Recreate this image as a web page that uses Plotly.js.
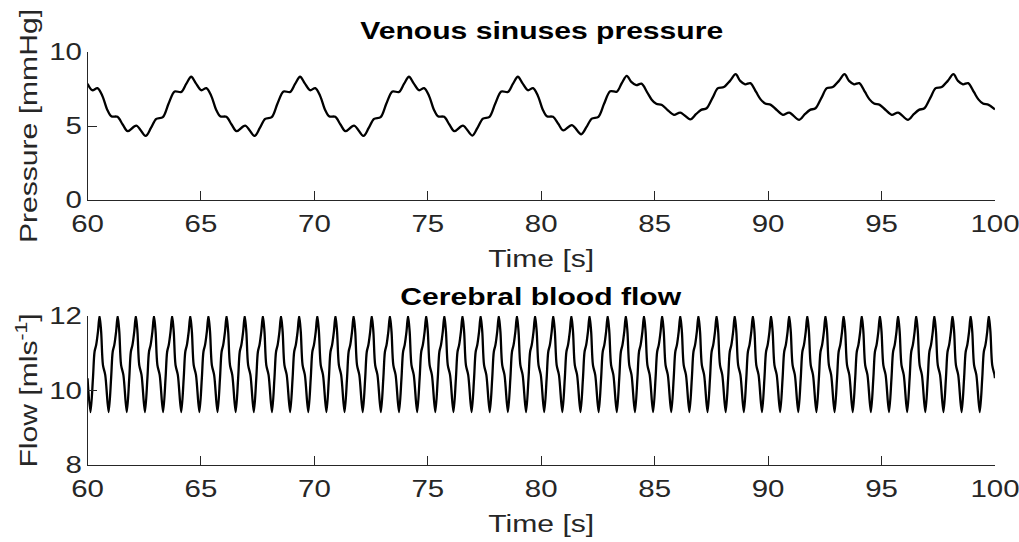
<!DOCTYPE html>
<html>
<head>
<meta charset="utf-8">
<script src="https://cdn.plot.ly/plotly-3.0.1.min.js"></script>
<style>html,body{margin:0;padding:0;background:#fff;}#chart{width:1019px;height:542px;}</style>
</head>
<body>
<div id="chart"></div>
<script>
// ---- Venous sinuses pressure [mmHg] ----
var pressTime = [
 60.00,60.21,60.44,60.65,60.87,61.05,61.32,61.55,61.77,62.15,62.56,62.79,63.03,63.32,63.57,63.84,64.13,64.35,64.57,
 64.77,65.01,65.24,65.45,65.67,65.85,66.12,66.35,66.57,66.95,67.36,67.59,67.83,68.12,68.37,68.64,68.93,69.15,69.37,
 69.57,69.81,70.04,70.25,70.47,70.65,70.92,71.15,71.37,71.75,72.16,72.39,72.63,72.92,73.17,73.44,73.73,73.95,74.17,
 74.37,74.61,74.84,75.05,75.27,75.45,75.72,75.95,76.17,76.55,76.96,77.19,77.43,77.72,77.97,78.24,78.53,78.75,78.97,
 79.17,79.41,79.64,79.85,80.07,80.25,80.52,80.75,80.97,81.35,81.76,81.99,82.23,82.52,82.77,83.04,83.33,83.55,83.77,
 83.97,84.19,84.42,84.67,84.87,85.07,85.32,85.57,85.85,86.13,86.57,86.82,87.05,87.29,87.55,87.79,88.05,88.32,88.57,
 88.77,88.99,89.22,89.47,89.67,89.87,90.12,90.37,90.65,90.93,91.37,91.62,91.85,92.09,92.35,92.59,92.85,93.12,93.37,
 93.57,93.79,94.02,94.27,94.47,94.67,94.92,95.17,95.45,95.73,96.17,96.42,96.65,96.89,97.15,97.39,97.65,97.92,98.17,
 98.37,98.59,98.82,99.07,99.27,99.47,99.72,100.00
];
var pressValue = [
 7.86,7.42,7.56,7.05,6.10,5.66,5.62,5.10,4.65,5.03,4.33,4.85,5.48,5.60,6.50,7.33,7.30,7.85,8.33,
 7.90,7.42,7.56,7.05,6.10,5.66,5.62,5.10,4.65,5.03,4.33,4.85,5.48,5.60,6.50,7.33,7.30,7.85,8.33,
 7.90,7.42,7.56,7.05,6.10,5.66,5.62,5.10,4.65,5.03,4.33,4.85,5.48,5.60,6.50,7.33,7.30,7.85,8.33,
 7.90,7.42,7.56,7.05,6.10,5.66,5.62,5.10,4.65,5.03,4.35,4.88,5.50,5.62,6.50,7.33,7.30,7.85,8.33,
 7.90,7.42,7.56,7.05,6.10,5.66,5.62,5.15,4.70,5.06,4.44,4.92,5.50,5.62,6.50,7.35,7.32,7.90,8.39,
 7.98,7.76,7.86,7.28,6.78,6.50,6.42,6.08,5.76,5.91,5.45,5.80,6.09,6.20,6.90,7.56,7.63,8.05,8.50,
 8.05,7.82,7.90,7.30,6.80,6.52,6.43,6.10,5.76,5.91,5.42,5.80,6.09,6.20,6.90,7.56,7.63,8.05,8.50,
 8.05,7.82,7.90,7.30,6.80,6.52,6.43,6.10,5.76,5.91,5.42,5.80,6.09,6.20,6.90,7.56,7.63,8.05,8.50,
 8.05,7.82,7.90,7.30,6.80,6.52,6.43,6.12
];

// ---- Cerebral blood flow [ml/s] ----
var flowTime = [
 60.00,
 60.13,60.24,60.31,60.38,60.46,60.53,60.60,60.68,60.78, 60.93,61.04,61.11,61.18,61.26,61.33,61.40,61.48,61.58,
 61.73,61.84,61.91,61.98,62.06,62.13,62.20,62.28,62.38, 62.53,62.64,62.71,62.78,62.86,62.93,63.00,63.08,63.18,
 63.33,63.44,63.51,63.58,63.66,63.73,63.80,63.88,63.98,
 64.13,64.24,64.31,64.38,64.46,64.53,64.60,64.68,64.78, 64.93,65.04,65.11,65.18,65.26,65.33,65.40,65.48,65.58,
 65.73,65.84,65.91,65.98,66.06,66.13,66.20,66.28,66.38, 66.53,66.64,66.71,66.78,66.86,66.93,67.00,67.08,67.18,
 67.33,67.44,67.51,67.58,67.66,67.73,67.80,67.88,67.98,
 68.13,68.24,68.31,68.38,68.46,68.53,68.60,68.68,68.78, 68.93,69.04,69.11,69.18,69.26,69.33,69.40,69.48,69.58,
 69.73,69.84,69.91,69.98,70.06,70.13,70.20,70.28,70.38, 70.53,70.64,70.71,70.78,70.86,70.93,71.00,71.08,71.18,
 71.33,71.44,71.51,71.58,71.66,71.73,71.80,71.88,71.98,
 72.13,72.24,72.31,72.38,72.46,72.53,72.60,72.68,72.78, 72.93,73.04,73.11,73.18,73.26,73.33,73.40,73.48,73.58,
 73.73,73.84,73.91,73.98,74.06,74.13,74.20,74.28,74.38, 74.53,74.64,74.71,74.78,74.86,74.93,75.00,75.08,75.18,
 75.33,75.44,75.51,75.58,75.66,75.73,75.80,75.88,75.98,
 76.13,76.24,76.31,76.38,76.46,76.53,76.60,76.68,76.78, 76.93,77.04,77.11,77.18,77.26,77.33,77.40,77.48,77.58,
 77.73,77.84,77.91,77.98,78.06,78.13,78.20,78.28,78.38, 78.53,78.64,78.71,78.78,78.86,78.93,79.00,79.08,79.18,
 79.33,79.44,79.51,79.58,79.66,79.73,79.80,79.88,79.98,
 80.13,80.24,80.31,80.38,80.46,80.53,80.60,80.68,80.78, 80.93,81.04,81.11,81.18,81.26,81.33,81.40,81.48,81.58,
 81.73,81.84,81.91,81.98,82.06,82.13,82.20,82.28,82.38, 82.53,82.64,82.71,82.78,82.86,82.93,83.00,83.08,83.18,
 83.33,83.44,83.51,83.58,83.66,83.73,83.80,83.88,83.98,
 84.13,84.24,84.31,84.38,84.46,84.53,84.60,84.68,84.78, 84.93,85.04,85.11,85.18,85.26,85.33,85.40,85.48,85.58,
 85.73,85.84,85.91,85.98,86.06,86.13,86.20,86.28,86.38, 86.53,86.64,86.71,86.78,86.86,86.93,87.00,87.08,87.18,
 87.33,87.44,87.51,87.58,87.66,87.73,87.80,87.88,87.98,
 88.13,88.24,88.31,88.38,88.46,88.53,88.60,88.68,88.78, 88.93,89.04,89.11,89.18,89.26,89.33,89.40,89.48,89.58,
 89.73,89.84,89.91,89.98,90.06,90.13,90.20,90.28,90.38, 90.53,90.64,90.71,90.78,90.86,90.93,91.00,91.08,91.18,
 91.33,91.44,91.51,91.58,91.66,91.73,91.80,91.88,91.98,
 92.13,92.24,92.31,92.38,92.46,92.53,92.60,92.68,92.78, 92.93,93.04,93.11,93.18,93.26,93.33,93.40,93.48,93.58,
 93.73,93.84,93.91,93.98,94.06,94.13,94.20,94.28,94.38, 94.53,94.64,94.71,94.78,94.86,94.93,95.00,95.08,95.18,
 95.33,95.44,95.51,95.58,95.66,95.73,95.80,95.88,95.98,
 96.13,96.24,96.31,96.38,96.46,96.53,96.60,96.68,96.78, 96.93,97.04,97.11,97.18,97.26,97.33,97.40,97.48,97.58,
 97.73,97.84,97.91,97.98,98.06,98.13,98.20,98.28,98.38, 98.53,98.64,98.71,98.78,98.86,98.93,99.00,99.08,99.18,
 99.33,99.44,99.51,99.58,99.66,99.73,99.80,99.88,99.98,
 100.00
];
var flowValue = [
 10.33,
 // 60-64 s
 9.42,10.34,11.04,11.22,11.58,12.00,11.58,10.68,10.42, 9.42,10.34,11.04,11.22,11.58,12.00,11.58,10.68,10.42,
 9.42,10.34,11.04,11.22,11.58,12.00,11.58,10.68,10.42, 9.42,10.34,11.04,11.22,11.58,12.00,11.58,10.68,10.42,
 9.42,10.34,11.04,11.22,11.58,12.00,11.58,10.68,10.42,
 // 64-68 s
 9.42,10.34,11.04,11.22,11.58,12.00,11.58,10.68,10.42, 9.42,10.34,11.04,11.22,11.58,12.00,11.58,10.68,10.42,
 9.42,10.34,11.04,11.22,11.58,12.00,11.58,10.68,10.42, 9.42,10.34,11.04,11.22,11.58,12.00,11.58,10.68,10.42,
 9.42,10.34,11.04,11.22,11.58,12.00,11.58,10.68,10.42,
 // 68-72 s
 9.42,10.34,11.04,11.22,11.58,12.00,11.58,10.68,10.42, 9.42,10.34,11.04,11.22,11.58,12.00,11.58,10.68,10.42,
 9.42,10.34,11.04,11.22,11.58,12.00,11.58,10.68,10.42, 9.42,10.34,11.04,11.22,11.58,12.00,11.58,10.68,10.42,
 9.42,10.34,11.04,11.22,11.58,12.00,11.58,10.68,10.42,
 // 72-76 s
 9.42,10.34,11.04,11.22,11.58,12.00,11.58,10.68,10.42, 9.42,10.34,11.04,11.22,11.58,12.00,11.58,10.68,10.42,
 9.42,10.34,11.04,11.22,11.58,12.00,11.58,10.68,10.42, 9.42,10.34,11.04,11.22,11.58,12.00,11.58,10.68,10.42,
 9.42,10.34,11.04,11.22,11.58,12.00,11.58,10.68,10.42,
 // 76-80 s
 9.42,10.34,11.04,11.22,11.58,12.00,11.58,10.68,10.42, 9.42,10.34,11.04,11.22,11.58,12.00,11.58,10.68,10.42,
 9.42,10.34,11.04,11.22,11.58,12.00,11.58,10.68,10.42, 9.42,10.34,11.04,11.22,11.58,12.00,11.58,10.68,10.42,
 9.42,10.34,11.04,11.22,11.58,12.00,11.58,10.68,10.42,
 // 80-84 s
 9.42,10.34,11.04,11.22,11.58,12.00,11.58,10.68,10.42, 9.42,10.34,11.04,11.22,11.58,12.00,11.58,10.68,10.42,
 9.42,10.34,11.04,11.22,11.58,12.00,11.58,10.68,10.42, 9.42,10.34,11.04,11.22,11.58,12.00,11.58,10.68,10.42,
 9.42,10.34,11.04,11.22,11.58,12.00,11.58,10.68,10.42,
 // 84-88 s
 9.42,10.34,11.04,11.22,11.58,12.00,11.58,10.68,10.42, 9.42,10.34,11.04,11.22,11.58,12.00,11.58,10.68,10.42,
 9.42,10.34,11.04,11.22,11.58,12.00,11.58,10.68,10.42, 9.42,10.34,11.04,11.22,11.58,12.00,11.58,10.68,10.42,
 9.42,10.34,11.04,11.22,11.58,12.00,11.58,10.68,10.42,
 // 88-92 s
 9.42,10.34,11.04,11.22,11.58,12.00,11.58,10.68,10.42, 9.42,10.34,11.04,11.22,11.58,12.00,11.58,10.68,10.42,
 9.42,10.34,11.04,11.22,11.58,12.00,11.58,10.68,10.42, 9.42,10.34,11.04,11.22,11.58,12.00,11.58,10.68,10.42,
 9.42,10.34,11.04,11.22,11.58,12.00,11.58,10.68,10.42,
 // 92-96 s
 9.42,10.34,11.04,11.22,11.58,12.00,11.58,10.68,10.42, 9.42,10.34,11.04,11.22,11.58,12.00,11.58,10.68,10.42,
 9.42,10.34,11.04,11.22,11.58,12.00,11.58,10.68,10.42, 9.42,10.34,11.04,11.22,11.58,12.00,11.58,10.68,10.42,
 9.42,10.34,11.04,11.22,11.58,12.00,11.58,10.68,10.42,
 // 96-100 s
 9.42,10.34,11.04,11.22,11.58,12.00,11.58,10.68,10.42, 9.42,10.34,11.04,11.22,11.58,12.00,11.58,10.68,10.42,
 9.42,10.34,11.04,11.22,11.58,12.00,11.58,10.68,10.42, 9.42,10.34,11.04,11.22,11.58,12.00,11.58,10.68,10.42,
 9.42,10.34,11.04,11.22,11.58,12.00,11.58,10.68,10.42,
 10.33
];

// ---- axis ticks and labels ----
var timeTicks = [60, 65, 70, 75, 80, 85, 90, 95, 100];
var pressTicks = [0, 5, 10];
var flowTicks = [8, 10, 12];
var titleTop = 'Venous sinuses pressure';
var titleBottom = 'Cerebral blood flow';
var xLabel = 'Time [s]';
var yLabelTop = 'Pressure [mmHg]';
var yLabelBottom = 'Flow [mls<sup>-1</sup>]';

var FONT = 'Liberation Sans, Arial, Helvetica, sans-serif';
var AX = '#262626';
var WIDEN = 1.28;   // the reference's glyphs are wider than Arial's
var tickFont = {family: FONT, size: 23, color: AX};
var labelFont = {family: FONT, size: 23.5, color: AX};
var titleFont = {family: FONT, size: 23.5, color: '#000'};

function xAxis(anchor) {
  return {
    domain: [0.0859, 0.9764], anchor: anchor, range: [60, 100],
    tickmode: 'array', tickvals: timeTicks, ticktext: timeTicks.map(String),
    ticks: 'inside', ticklen: 9, tickwidth: 1, tickcolor: AX,
    showline: true, linecolor: AX, linewidth: 1, mirror: false,
    showgrid: false, zeroline: false, tickfont: tickFont, ticklabelstandoff: 3,
    title: {text: xLabel, font: labelFont, standoff: 14}
  };
}
function yAxis(anchor, domain, range, ticks, label) {
  return {
    domain: domain, anchor: anchor, range: range,
    tickmode: 'array', tickvals: ticks, ticktext: ticks.map(String),
    ticks: 'inside', ticklen: 9, tickwidth: 1, tickcolor: AX,
    showline: true, linecolor: AX, linewidth: 1, mirror: false,
    showgrid: false, zeroline: false, tickfont: tickFont,
    title: {text: label, font: labelFont, standoff: 12}
  };
}

var traces = [
  {x: pressTime, y: pressValue, xaxis: 'x', yaxis: 'y', type: 'scatter', mode: 'lines',
   line: {color: '#000000', width: 2.3, shape: 'spline', smoothing: 0.9}, hoverinfo: 'skip'},
  {x: flowTime, y: flowValue, xaxis: 'x2', yaxis: 'y2', type: 'scatter', mode: 'lines',
   line: {color: '#000000', width: 2.3, shape: 'spline', smoothing: 0.9}, hoverinfo: 'skip'}
];

var layout = {
  width: 1019, height: 542,
  margin: {l: 0, r: 0, t: 0, b: 0, pad: 0},
  paper_bgcolor: '#ffffff', plot_bgcolor: '#ffffff',
  showlegend: false,
  xaxis: xAxis('y'),
  yaxis: yAxis('x', [0.631, 0.904], [0, 10], pressTicks, yLabelTop),
  xaxis2: xAxis('y2'),
  yaxis2: yAxis('x2', [0.142, 0.417], [8, 12], flowTicks, yLabelBottom),
  annotations: [
    {text: '<b>' + titleTop + '</b>', xref: 'paper', yref: 'paper', x: 0.531, y: (542 - 31) / 542,
     xanchor: 'center', yanchor: 'middle', showarrow: false, font: titleFont},
    {text: '<b>' + titleBottom + '</b>', xref: 'paper', yref: 'paper', x: 0.531, y: (542 - 297) / 542,
     xanchor: 'center', yanchor: 'middle', showarrow: false, font: titleFont}
  ]
};

Plotly.newPlot('chart', traces, layout, {staticPlot: true, displayModeBar: false}).then(function (gd) {
  // widen every text run along its own direction, keeping its anchor
  gd.querySelectorAll('svg text').forEach(function (t) {
    var L = t.getComputedTextLength();
    if (L > 0) {
      t.setAttribute('textLength', (L * WIDEN).toFixed(2));
      t.setAttribute('lengthAdjust', 'spacingAndGlyphs');
    }
  });
});
</script>
</body>
</html>
